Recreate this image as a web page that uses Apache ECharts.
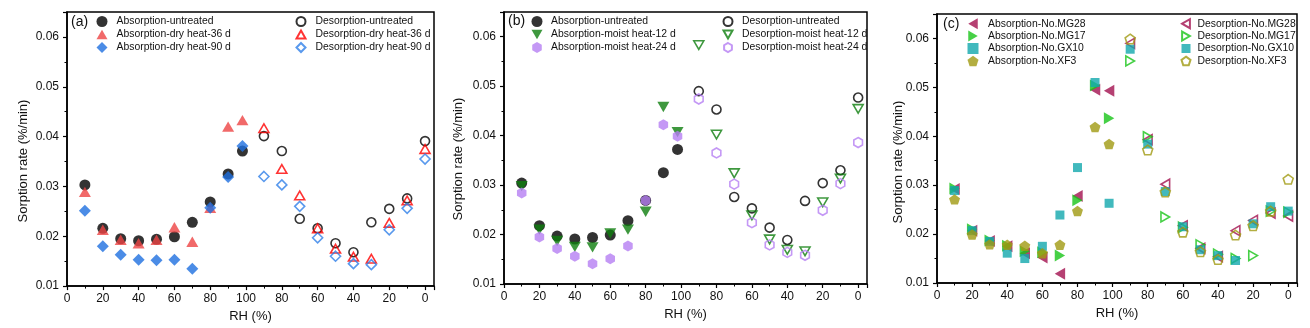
<!DOCTYPE html>
<html>
<head>
<meta charset="utf-8">
<script src="https://cdn.jsdelivr.net/npm/echarts@6/dist/echarts.min.js"></script>
<style>
html,body{margin:0;padding:0;background:#fff;}
#chart{width:1310px;height:328px;}
</style>
</head>
<body>
<div id="chart"></div>
<script>
// ---- shared axes ----
const absRH = [10, 20, 30, 40, 50, 60, 70, 80, 90, 98];
const desRH = [90, 80, 70, 60, 50, 40, 30, 20, 10, 0];
const xTickLabels = ['0', '20', '40', '60', '80', '100', '80', '60', '40', '20', '0'];
const yTickLabels = ['0.01', '0.02', '0.03', '0.04', '0.05', '0.06'];
const panelLabels = ['(a)', '(b)', '(c)'];
const xTitle = 'RH (%)';
const yTitle = 'Sorption rate (%/min)';

// ---- panel (a) ----
const aAbsUntreated = [0.0303, 0.0216, 0.0195, 0.0191, 0.0194, 0.0199, 0.0228, 0.0269, 0.0325, 0.0371];
const aAbsDry36 = [0.0289, 0.0213, 0.0193, 0.0186, 0.0193, 0.0218, 0.0189, 0.0257, 0.0420, 0.0433];
const aAbsDry90 = [0.0251, 0.0180, 0.0163, 0.0153, 0.0152, 0.0153, 0.0135, 0.0257, 0.0319, 0.0381];
const aDesUntreated = [0.0401, 0.0371, 0.0235, 0.0216, 0.0186, 0.0168, 0.0228, 0.0255, 0.0276, 0.0391];
const aDesDry36 = [0.0417, 0.0335, 0.0282, 0.0216, 0.0175, 0.0159, 0.0155, 0.0227, 0.0272, 0.0375];
const aDesDry90 = [0.0320, 0.0303, 0.0260, 0.0197, 0.0160, 0.0145, 0.0143, 0.0213, 0.0256, 0.0355];

// ---- panel (b) ----
const bAbsUntreated = [0.0304, 0.0218, 0.0197, 0.0191, 0.0194, 0.0199, 0.0228, 0.0269, 0.0325, 0.0372];
const bAbsMoist12 = [0.0298, 0.0210, 0.0187, 0.0175, 0.0174, 0.0202, 0.0210, 0.0246, 0.0458, 0.0407];
const bAbsMoist24 = [0.0284, 0.0195, 0.0172, 0.0156, 0.0141, 0.0151, 0.0177, 0.0269, 0.0422, 0.0399];
const bDesUntreated = [0.0490, 0.0453, 0.0276, 0.0253, 0.0214, 0.0189, 0.0268, 0.0304, 0.0330, 0.0477];
const bDesMoist12 = [0.0583, 0.0402, 0.0324, 0.0239, 0.0190, 0.0169, 0.0166, 0.0265, 0.0313, 0.0454];
const bDesMoist24 = [0.0474, 0.0365, 0.0302, 0.0224, 0.0179, 0.0164, 0.0158, 0.0249, 0.0303, 0.0386];

// ---- panel (c) ----
const cAbsMG28 = [0.0292, 0.0207, 0.0186, 0.0175, 0.0161, 0.0152, 0.0119, 0.0278, 0.0495, 0.0493];
const cAbsMG17 = [0.0293, 0.0210, 0.0187, 0.0176, 0.0165, 0.0163, 0.0156, 0.0269, 0.0504, 0.0437];
const cAbsGX10 = [0.0289, 0.0207, 0.0185, 0.0161, 0.0150, 0.0175, 0.0239, 0.0336, 0.0510, 0.0263];
const cAbsXF3 = [0.0271, 0.0199, 0.0179, 0.0178, 0.0176, 0.0161, 0.0178, 0.0247, 0.0419, 0.0384];
const cDesMG28 = [0.0590, 0.0393, 0.0302, 0.0217, 0.0171, 0.0154, 0.0207, 0.0228, 0.0243, 0.0237];
const cDesMG17 = [0.0554, 0.0399, 0.0235, 0.0214, 0.0178, 0.0159, 0.0150, 0.0156, 0.0247, 0.0245];
const cDesGX10 = [0.0578, 0.0384, 0.0287, 0.0215, 0.0168, 0.0156, 0.0146, 0.0221, 0.0256, 0.0247];
const cDesXF3 = [0.0599, 0.0372, 0.0286, 0.0204, 0.0164, 0.0148, 0.0198, 0.0217, 0.0247, 0.0312];

// symbols
const SYM = {
  circle: 'circle',
  triUp: 'path://M5,0 L10,8.66 L0,8.66Z',
  triDown: 'path://M0,0 L10,0 L5,8.66Z',
  triLeft: 'path://M0,5 L8.66,0 L8.66,10Z',
  triRight: 'path://M0,0 L8.66,5 L0,10Z',
  diamond: 'path://M5,0 L10,5 L5,10 L0,5Z',
  square: 'path://M0,0 L10,0 L10,10 L0,10Z',
  hexagon: 'path://M5,0 L9.33,2.5 L9.33,7.5 L5,10 L0.67,7.5 L0.67,2.5Z',
  pentagon: 'path://M5,0 L10,3.63 L8.09,9.51 L1.91,9.51 L0,3.63Z'
};

const grids = [
  {left: 67, top: 12, width: 367, height: 275},
  {left: 504, top: 12, width: 363, height: 272},
  {left: 937, top: 14, width: 360, height: 269}
];
const yTitlePos = [[23, 161], [458, 159], [898, 162]];

const FONT = '"Liberation Sans", Arial, Helvetica, sans-serif';

function absData(vals) { return absRH.map((rh, i) => [rh, vals[i]]); }
function desData(vals) { return desRH.map((rh, i) => [200 - rh, vals[i]]); }

const series = [];
function addSeries(gi, name, data, symbol, color, hollow, size) {
  series.push({
    type: 'scatter', name: name, xAxisIndex: gi, yAxisIndex: gi,
    data: data, symbol: symbol, symbolSize: size || 10, symbolKeepAspect: true,
    itemStyle: hollow
      ? {color: 'rgba(0,0,0,0)', borderColor: color, borderWidth: 1.6}
      : {color: color, borderWidth: 0},
    emphasis: {disabled: true},
    animation: false
  });
}

// (a)
addSeries(0, 'Absorption-untreated', absData(aAbsUntreated), SYM.circle, '#000000', false, 11);
addSeries(0, 'Absorption-dry heat-36 d', absData(aAbsDry36), SYM.triUp, '#EE4444', false, 12);
addSeries(0, 'Absorption-dry heat-90 d', absData(aAbsDry90), SYM.diamond, '#1E6FE0', false, 12);
addSeries(0, 'Desorption-untreated', desData(aDesUntreated), SYM.circle, '#000000', true, 9);
addSeries(0, 'Desorption-dry heat-36 d', desData(aDesDry36), SYM.triUp, '#FF0000', true, 10);
addSeries(0, 'Desorption-dry heat-90 d', desData(aDesDry90), SYM.diamond, '#2F7FE8', true, 10);
// (b)
addSeries(1, 'Absorption-untreated', absData(bAbsUntreated), SYM.circle, '#000000', false, 11);
addSeries(1, 'Absorption-moist heat-12 d', absData(bAbsMoist12), SYM.triDown, '#0E7E0E', false, 12);
addSeries(1, 'Absorption-moist heat-24 d', absData(bAbsMoist24), SYM.hexagon, '#B57EF2', false, 11);
addSeries(1, 'Desorption-untreated', desData(bDesUntreated), SYM.circle, '#000000', true, 9);
addSeries(1, 'Desorption-moist heat-12 d', desData(bDesMoist12), SYM.triDown, '#0E7E0E', true, 10);
addSeries(1, 'Desorption-moist heat-24 d', desData(bDesMoist24), SYM.hexagon, '#B57EF2', true, 10);
// (c)
addSeries(2, 'Absorption-No.MG28', absData(cAbsMG28), SYM.triLeft, '#A3104F', false, 12);
addSeries(2, 'Absorption-No.MG17', absData(cAbsMG17), SYM.triRight, '#18C418', false, 12);
addSeries(2, 'Absorption-No.GX10', absData(cAbsGX10), SYM.square, '#12A8AC', false, 9);
addSeries(2, 'Absorption-No.XF3', absData(cAbsXF3), SYM.pentagon, '#A09A12', false, 11);
addSeries(2, 'Desorption-No.MG28', desData(cDesMG28), SYM.triLeft, '#A3104F', true, 10);
addSeries(2, 'Desorption-No.MG17', desData(cDesMG17), SYM.triRight, '#18C418', true, 10);
addSeries(2, 'Desorption-No.GX10', desData(cDesGX10), SYM.square, '#12A8AC', false, 9);
addSeries(2, 'Desorption-No.XF3', desData(cDesXF3), SYM.pentagon, '#A09A12', true, 10);

const xAxes = grids.map((g, i) => ({
  type: 'value', gridIndex: i, min: 0, max: 205, interval: 20,
  name: xTitle, nameLocation: 'middle', nameGap: 22,
  nameTextStyle: {fontFamily: FONT, fontSize: 13, color: '#111'},
  axisLine: {show: true, onZero: false, lineStyle: {color: '#000', width: 1.5}},
  axisTick: {show: true, inside: false, length: 4, lineStyle: {color: '#000', width: 1.2}},
  minorTick: {show: true, splitNumber: 2, length: 2.5, lineStyle: {color: '#000', width: 1}},
  splitLine: {show: false},
  axisLabel: {
    fontFamily: FONT, fontSize: 12, color: '#111', margin: 7,
    formatter: function (v) {
      const k = Math.round(v / 20);
      if (Math.abs(v - k * 20) > 1e-6 || k > 10) return '';
      return xTickLabels[k];
    }
  }
}));

const yAxes = grids.map((g, i) => ({
  type: 'value', gridIndex: i, min: 0.01, max: 0.065, interval: 0.01,
  axisLine: {show: true, onZero: false, lineStyle: {color: '#000', width: 1.5}},
  axisTick: {show: true, inside: false, length: 4, lineStyle: {color: '#000', width: 1.2}},
  minorTick: {show: true, splitNumber: 2, length: 2.5, lineStyle: {color: '#000', width: 1}},
  splitLine: {show: false},
  axisLabel: {
    fontFamily: FONT, fontSize: 12, color: '#111', margin: 8,
    formatter: function (v) {
      const k = Math.round(v * 100);
      if (Math.abs(v * 100 - k) > 1e-6 || k < 1 || k > 6) return '';
      return yTickLabels[k - 1];
    }
  }
}));

function legend(iconCenterX, top, names, rowH, textPad, iconSize) {
  return {
    left: iconCenterX - iconSize / 2, top: top, orient: 'vertical', padding: 0, itemGap: 0,
    itemWidth: iconSize, itemHeight: iconSize, data: names, selectedMode: false,
    textStyle: {fontFamily: FONT, fontSize: 10.4, color: '#111', lineHeight: rowH, padding: [0, 0, 0, textPad]}
  };
}

const legends = [
  legend(102, 15, ['Absorption-untreated', 'Absorption-dry heat-36 d', 'Absorption-dry heat-90 d'], 13, 4, 11),
  legend(300, 15, ['Desorption-untreated', 'Desorption-dry heat-36 d', 'Desorption-dry heat-90 d'], 13, 5, 9),
  legend(537, 15, ['Absorption-untreated', 'Absorption-moist heat-12 d', 'Absorption-moist heat-24 d'], 13, 3.5, 11),
  legend(727, 15, ['Desorption-untreated', 'Desorption-moist heat-12 d', 'Desorption-moist heat-24 d'], 13, 4.5, 9),
  legend(973, 17.5, ['Absorption-No.MG28', 'Absorption-No.MG17', 'Absorption-No.GX10', 'Absorption-No.XF3'], 12.4, 4.5, 11),
  legend(1185, 17.5, ['Desorption-No.MG28', 'Desorption-No.MG17', 'Desorption-No.GX10', 'Desorption-No.XF3'], 12.4, 2, 9)
];

const titles = [
  {text: panelLabels[0], left: 71, top: 15},
  {text: panelLabels[1], left: 508, top: 14},
  {text: panelLabels[2], left: 943, top: 17}
].map(t => Object.assign(t, {padding: 0, textStyle: {fontFamily: FONT, fontSize: 14, fontWeight: 'normal', color: '#111'}}));

const graphics = yTitlePos.map(p => ({
  type: 'text', x: p[0], y: p[1], rotation: Math.PI / 2, silent: true,
  style: {text: yTitle, font: '13px ' + FONT, fill: '#111', align: 'center', verticalAlign: 'middle'}
}));

const chart = echarts.init(document.getElementById('chart'), null, {renderer: 'canvas'});
chart.setOption({
  backgroundColor: '#fff',
  animation: false,
  title: titles,
  legend: legends,
  graphic: graphics,
  grid: grids.map(g => Object.assign({show: true, borderColor: '#000', borderWidth: 1.5, backgroundColor: 'transparent'}, g)),
  xAxis: xAxes,
  yAxis: yAxes,
  series: series
});
</script>
</body>
</html>
